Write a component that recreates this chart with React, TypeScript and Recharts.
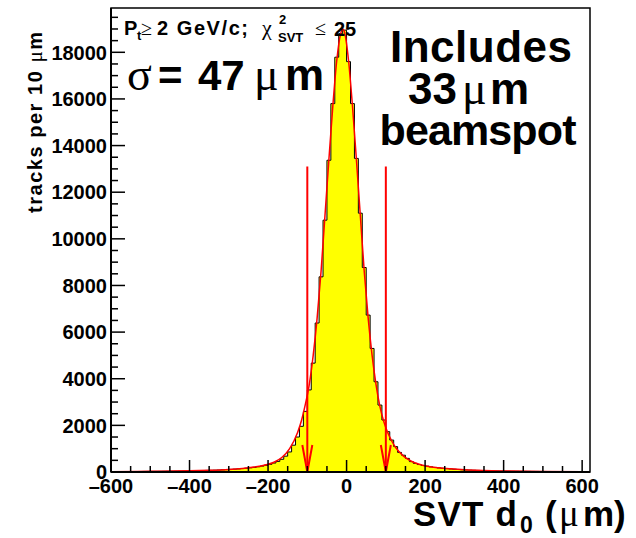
import React from 'react';
import {
  ComposedChart,
  Area,
  Line,
  XAxis,
  YAxis,
  ReferenceLine,
  ReferenceArea,
} from 'recharts';

const SANS = '"Liberation Sans", Arial, Helvetica, sans-serif';
const SYMBOL = '"Liberation Serif", "Times New Roman", serif';

const X_MIN = -600;
const X_MAX = 620;
const BIN_WIDTH = 10;
const Y_MAX = 19900;

// tracks per 10 um bin, first bin starts at -600 um
const COUNTS = [
  15, 16, 17, 18, 18, 20, 21, 22, 24, 25,
  27, 28, 30, 32, 34, 36, 38, 41, 44, 47,
  50, 54, 58, 62, 67, 72, 78, 85, 93, 102,
  112, 122, 134, 148, 163, 180, 200, 225, 255, 290,
  330, 385, 455, 545, 680, 860, 1150, 1500, 1960, 2600,
  3520, 4670, 6390, 8370, 10800, 13370, 15800, 17790, 18800, 18950,
  17600, 15800, 13450, 11100, 8770, 6730, 5300, 3870, 2870, 2230,
  1730, 1370, 1090, 840, 720, 585, 445, 370, 320, 280,
  250, 220, 195, 175, 160, 145, 130, 118, 107, 97,
  88, 80, 73, 67, 61, 56, 52, 48, 45, 42,
  39, 37, 35, 33, 31, 29, 28, 26, 25, 24,
  23, 22, 21, 20, 19, 18, 17, 16, 16, 15,
  15, 14,
];

// fitted curve (red)
const FIT_X = [
  -600, -500, -400, -350, -300, -265, -235, -205, -185, -165,
  -145, -125, -115, -105, -95, -85, -75, -65, -55, -45,
  -35, -25, -15, -10, -5, 5, 15, 25, 35, 45,
  55, 65, 75, 85, 95, 105, 115, 125, 145, 165,
  185, 205, 235, 265, 300, 350, 400, 500, 620,
];
const FIT_Y = [
  16, 27, 50, 72, 110, 155, 210, 310, 420, 620,
  1000, 1680, 2200, 2900, 3750, 5000, 6600, 8600, 11000, 13400,
  15700, 17650, 18800, 19000, 18850, 17650, 15700, 13400, 11000, 8600,
  6600, 5000, 3750, 2800, 2150, 1680, 1330, 1050, 680, 460,
  330, 250, 180, 135, 95, 62, 42, 24, 14,
];

// +-100 um cut markers
const CUT_POSITIONS = [-100, 100];
const CUT_ARROW_TOP = 13100;

const X_LABELS = [-600, -400, -200, 0, 200, 400, 600];
const X_TICKS = [
  -600, -550, -500, -450, -400, -350, -300, -250, -200, -150, -100, -50,
  0, 50, 100, 150, 200, 250, 300, 350, 400, 450, 500, 550, 600,
];
const Y_LABELS = [0, 2000, 4000, 6000, 8000, 10000, 12000, 14000, 16000, 18000];
const Y_TICKS = [
  0, 500, 1000, 1500, 2000, 2500, 3000, 3500, 4000, 4500,
  5000, 5500, 6000, 6500, 7000, 7500, 8000, 8500, 9000, 9500,
  10000, 10500, 11000, 11500, 12000, 12500, 13000, 13500, 14000, 14500,
  15000, 15500, 16000, 16500, 17000, 17500, 18000, 18500, 19000, 19500,
];

const histData = COUNTS.map((count, i) => ({ x: X_MIN + i * BIN_WIDTH, y: count }));
// closing edge so the last bin keeps its width with stepAfter
histData.push({ x: X_MIN + COUNTS.length * BIN_WIDTH, y: COUNTS[COUNTS.length - 1] });

const fitData = FIT_X.map((x, i) => ({ x, y: FIT_Y[i] }));

const formatNum = (v: number) => (v < 0 ? `\u2013${-v}` : `${v}`);

// ROOT style: ticks point into the frame
const XTick = (props: any) => {
  const { x, y, payload } = props;
  const major = X_LABELS.includes(payload.value);
  return (
    <g>
      <line x1={x} y1={y} x2={x} y2={y - (major ? 12 : 6)} stroke="#000" strokeWidth={1.5} />
      {major && (
        <text
          x={x}
          y={y + 21}
          textAnchor="middle"
          fontFamily={SANS}
          fontWeight="bold"
          fontSize={20}
          fill="#000"
        >
          {formatNum(payload.value)}
        </text>
      )}
    </g>
  );
};

const YTick = (props: any) => {
  const { x, y, payload } = props;
  const major = Y_LABELS.includes(payload.value);
  return (
    <g>
      <line x1={x} y1={y} x2={x + (major ? 14 : 7)} y2={y} stroke="#000" strokeWidth={1.5} />
      {major && (
        <text
          x={x - 4}
          y={y}
          dy="0.36em"
          textAnchor="end"
          fontFamily={SANS}
          fontWeight="bold"
          fontSize={20}
          fill="#000"
        >
          {payload.value}
        </text>
      )}
    </g>
  );
};

const CutArrow = (props: any) => {
  const { x1, y1, x2, y2 } = props;
  return (
    <g stroke="#ff0000" strokeWidth={2} fill="none">
      <line x1={x1} y1={y1} x2={x2} y2={y2} />
      <polyline points={`${x2 - 5},${y2 - 27} ${x2},${y2} ${x2 + 5},${y2 - 27}`} />
    </g>
  );
};

const Annotations = () => (
  <svg
    width={636}
    height={538}
    style={{ position: 'absolute', left: 0, top: 0, pointerEvents: 'none' }}
  >
    <g fill="#000" fontFamily={SANS} fontWeight="bold">
      {/* cut label */}
      <text x={124} y={35} fontSize={20}>P</text>
      <text x={137} y={40} fontSize={13}>t</text>
      <text x={141} y={35} fontSize={20} fontFamily={SYMBOL} fontWeight="normal">≥</text>
      <text x={157} y={35} fontSize={20} textLength={91} lengthAdjust="spacing">2 GeV/c;</text>
      <text x={262} y={35} fontSize={22} fontFamily={SYMBOL} fontWeight="normal">χ</text>
      <text x={279} y={24} fontSize={13}>2</text>
      <text x={278} y={42} fontSize={13}>SVT</text>
      <text x={315} y={35} fontSize={20} fontFamily={SYMBOL} fontWeight="normal">≤</text>
      <text x={334} y={36} fontSize={20}>25</text>

      {/* resolution */}
      <text x={127} y={90} fontSize={46} fontFamily={SYMBOL} fontWeight="normal">σ</text>
      <text x={158} y={90} fontSize={42}>=</text>
      <text x={198} y={90} fontSize={42}>47</text>
      <text x={254} y={90} fontSize={46} fontFamily={SYMBOL} fontWeight="normal">μ</text>
      <text x={285} y={90} fontSize={44}>m</text>

      {/* beamspot note */}
      <text x={481} y={62} fontSize={44} textAnchor="middle" textLength={182} lengthAdjust="spacing">Includes</text>
      <text x={408} y={104} fontSize={44}>33</text>
      <text x={462} y={104} fontSize={46} fontFamily={SYMBOL} fontWeight="normal">μ</text>
      <text x={490} y={104} fontSize={44}>m</text>
      <text x={478} y={145} fontSize={43} textAnchor="middle" textLength={197} lengthAdjust="spacing">beamspot</text>

      {/* x axis title */}
      <text x={413} y={526} fontSize={35} textLength={104} lengthAdjust="spacing">SVT d</text>
      <text x={520} y={533} fontSize={23}>0</text>
      <text x={545} y={526} fontSize={35}>(</text>
      <text x={559} y={526} fontSize={37} fontFamily={SYMBOL} fontWeight="normal">μ</text>
      <text x={583} y={526} fontSize={35}>m)</text>

      {/* y axis title */}
      <text
        transform="translate(42,32) rotate(-90)"
        x={0}
        y={0}
        fontSize={20}
        textAnchor="end"
        textLength={181}
        lengthAdjust="spacing"
      >
        tracks per 10{'\u00a0'}
        <tspan fontFamily={SYMBOL} fontWeight="normal" fontSize={21}>μ</tspan>
        m
      </text>
    </g>
  </svg>
);

export default function App() {
  return (
    <div style={{ position: 'absolute', left: 0, top: 0, width: 636, height: 538, background: '#fff' }}>
      <ComposedChart
        width={636}
        height={538}
        margin={{ top: 8, right: 46, bottom: 0, left: 0 }}
      >
        <ReferenceArea
          x1={X_MIN}
          x2={X_MAX}
          y1={0}
          y2={Y_MAX}
          fill="none"
          stroke="#000"
          strokeWidth={1.5}
          ifOverflow="visible"
        />
        <Area
          data={histData}
          dataKey="y"
          type="stepAfter"
          stroke="#000"
          strokeWidth={1}
          fill="#ffff00"
          fillOpacity={1}
          baseValue={0}
          dot={false}
          activeDot={false}
          isAnimationActive={false}
        />
        <Line
          data={fitData}
          dataKey="y"
          type="monotone"
          stroke="#ff0000"
          strokeWidth={1.5}
          dot={false}
          activeDot={false}
          isAnimationActive={false}
        />
        {CUT_POSITIONS.map((pos) => (
          <ReferenceLine
            key={pos}
            segment={[
              { x: pos, y: CUT_ARROW_TOP },
              { x: pos, y: 0 },
            ]}
            shape={CutArrow}
          />
        ))}
        <XAxis
          dataKey="x"
          type="number"
          domain={[X_MIN, X_MAX]}
          allowDataOverflow
          ticks={X_TICKS}
          interval={0}
          tick={XTick}
          tickLine={false}
          tickSize={0}
          tickMargin={0}
          axisLine={{ stroke: '#000', strokeWidth: 2 }}
          height={66}
        />
        <YAxis
          type="number"
          domain={[0, Y_MAX]}
          allowDataOverflow
          ticks={Y_TICKS}
          interval={0}
          tick={YTick}
          tickLine={false}
          tickSize={0}
          tickMargin={0}
          axisLine={{ stroke: '#000', strokeWidth: 2 }}
          width={111}
        />
      </ComposedChart>
      <Annotations />
    </div>
  );
}
